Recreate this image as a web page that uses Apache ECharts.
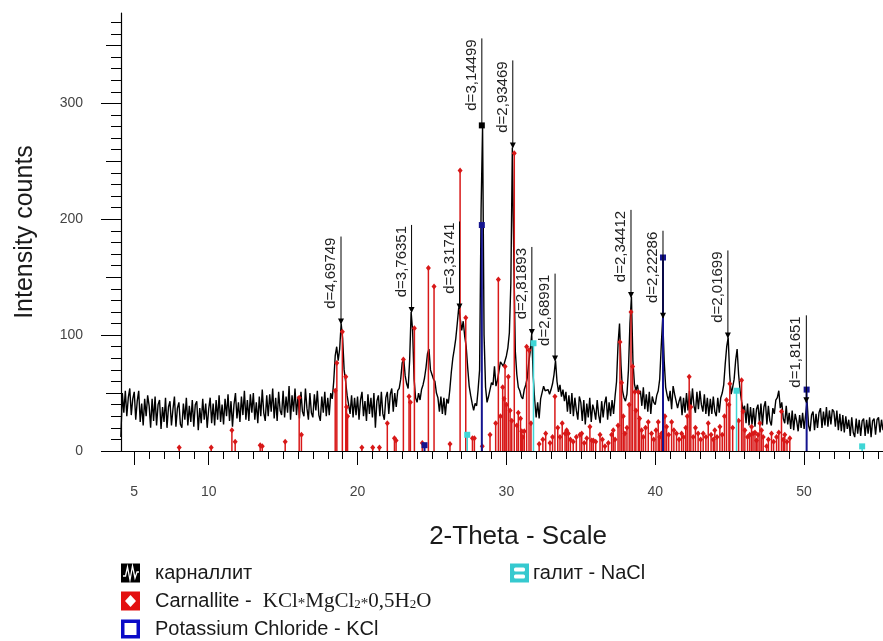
<!DOCTYPE html>
<html>
<head>
<meta charset="utf-8">
<script src="https://cdn.jsdelivr.net/npm/echarts@6/dist/echarts.min.js"></script>
<style>
  html, body { margin: 0; padding: 0; background: #fff; }
  #chart { width: 883px; height: 641px; }
</style>
</head>
<body>
<div id="chart"></div>
<script>
// measured pattern, 4.1° .. 55.3° 2θ, 0.1° step
const scanStart = 4.1;
const scanStep = 0.1;
const scanCounts = [
  12, 50, 33, 52, 30, 46, 54, 31, 45,
  51, 27, 43, 52, 25, 41, 22, 45, 30, 48,
  39, 20, 45, 26, 47, 22, 40, 44, 19, 38,
  25, 46, 20, 38, 43, 22, 36, 47, 21, 37,
  42, 23, 20, 41, 27, 46, 22, 39, 25, 44,
  21, 40, 43, 18, 37, 24, 45, 27, 41, 20,
  36, 46, 24, 41, 22, 44, 27, 48, 25, 40,
  23, 45, 30, 49, 26, 43, 21, 40, 50, 28,
  42, 25, 47, 31, 52, 27, 44, 26, 49, 33,
  50, 27, 42, 24, 47, 30, 53, 33, 26, 48,
  30, 49, 34, 54, 28, 46, 26, 51, 35, 31,
  52, 29, 47, 33, 56, 27, 48, 34, 54, 31,
  47, 28, 51, 34, 30, 54, 37, 27, 50, 33,
  29, 49, 35, 52, 31, 26, 47, 33, 51, 30,
  46, 31, 50, 45, 60, 82, 90, 78, 88, 110,
  97, 70, 60, 48, 49, 32, 48, 29, 46, 31,
  47, 27, 44, 51, 30, 43, 26, 49, 32, 46,
  29, 50, 20, 43, 48, 30, 51, 32, 27, 46,
  51, 32, 49, 54, 34, 50, 38, 52, 54, 62,
  76, 80, 65, 58, 54, 78, 120, 104, 62, 46,
  42, 50, 44, 53, 57, 63, 72, 84, 88, 70,
  66, 62, 60, 50, 46, 34, 47, 32, 46, 31,
  45, 41, 53, 68, 80, 88, 97, 110, 124, 114,
  104, 112, 99, 90, 72, 56, 48, 41, 35, 41,
  39, 53, 70, 208, 280, 100, 55, 42, 47, 46,
  59, 57, 73, 56, 61, 60, 77, 75, 73, 72,
  82, 89, 102, 145, 262, 165, 86, 66, 55, 52,
  47, 45, 53, 57, 63, 76, 86, 101, 65, 44,
  29, 42, 28, 45, 44, 56, 52, 53, 53, 49,
  53, 58, 66, 78, 60, 51, 57, 47, 53, 43,
  51, 34, 48, 32, 50, 30, 46, 35, 27, 47,
  42, 26, 44, 23, 41, 29, 46, 25, 40, 35,
  27, 44, 31, 24, 43, 29, 41, 47, 27, 42,
  30, 44, 32, 47, 60, 92, 110, 74, 52, 46,
  43, 49, 70, 110, 133, 78, 58, 52, 57, 49,
  52, 39, 55, 36, 49, 34, 51, 32, 47, 42,
  40, 48, 52, 62, 90, 115, 78, 55, 48, 43,
  52, 36, 56, 49, 50, 37, 43, 47, 31, 46,
  33, 50, 35, 52, 37, 54, 39, 33, 51, 36,
  52, 40, 34, 49, 32, 46, 30, 45, 32, 47,
  34, 30, 46, 33, 46, 50, 57, 75, 90, 98,
  66, 49, 55, 62, 78, 88, 66, 52, 43, 35,
  39, 24, 41, 22, 38, 23, 37, 21, 36, 40,
  25, 41, 22, 38, 43, 23, 39, 26, 22, 37,
  32, 44, 46, 52, 37, 42, 28, 24, 39, 23,
  33, 19, 35, 18, 32, 26, 17, 31, 20, 33,
  19, 31, 43, 22, 17, 31, 34, 18, 32, 20,
  33, 37, 20, 34, 22, 38, 21, 35, 23, 36,
  34, 21, 35, 18, 32, 17, 31, 16, 30, 19,
  27, 13, 29, 16, 12, 28, 15, 27, 13, 26,
  28, 13, 27, 15, 29, 12, 26, 28, 14, 27,
  29, 16, 27, 18
];

// reference sticks [2θ, intensity]
const carnalliteSticks = [
  [8.02, 3], [10.17, 3], [11.56, 18], [11.78, 8], [13.46, 5], [13.6, 4], [15.14, 8], [16.08, 46], [16.23, 14],
  [18.5, 52], [18.61, 76], [18.98, 103], [19.21, 64], [19.26, 38], [19.33, 30],
  [20.29, 3], [21.02, 3], [21.47, 3], [22.0, 24], [22.48, 11], [22.59, 9],
  [23.08, 79], [23.46, 47], [23.55, 42], [23.82, 106], [24.35, 7], [24.76, 158], [25.14, 142], [26.21, 6],
  [26.89, 242], [27.27, 115], [27.72, 11], [27.85, 11], [28.38, 4], [28.9, 14], [29.28, 24], [29.46, 148],
  [29.6, 30], [29.75, 55], [29.85, 45], [29.91, 73], [30.0, 40], [30.13, 64], [30.25, 35], [30.36, 26],
  [30.53, 257], [30.7, 22], [30.8, 33], [30.95, 28], [31.03, 17], [31.1, 12], [31.2, 17], [31.36, 90],
  [31.52, 87], [31.65, 24],
  [32.2, 6], [32.45, 10], [32.64, 15], [32.93, 7], [33.1, 12], [33.26, 47], [33.45, 20], [33.6, 12],
  [33.75, 24], [33.94, 15], [34.05, 18], [34.16, 15], [34.3, 10], [34.49, 8], [34.7, 12], [34.94, 14],
  [35.06, 15], [35.23, 7], [35.4, 11], [35.61, 21], [35.73, 9], [35.84, 9], [36.0, 8], [36.29, 14],
  [36.45, 10], [36.62, 4], [36.85, 7], [37.07, 14], [37.18, 18], [37.3, 10], [37.5, 22], [37.63, 94],
  [37.74, 59], [37.85, 30], [37.96, 15], [38.1, 20], [38.25, 40], [38.37, 120], [38.48, 73], [38.63, 51],
  [38.7, 35], [38.86, 51], [38.95, 28], [39.08, 18], [39.2, 12], [39.35, 20], [39.53, 25], [39.75, 15],
  [39.9, 10], [40.05, 18], [40.2, 25], [40.3, 12], [40.42, 15], [40.65, 30], [40.76, 21], [40.9, 14],
  [41.1, 25], [41.25, 18], [41.43, 15], [41.6, 10], [41.77, 15], [41.9, 12], [42.05, 20], [42.15, 30],
  [42.28, 64], [42.39, 38], [42.55, 12], [42.7, 20], [42.88, 15], [43.05, 10], [43.22, 15], [43.4, 12],
  [43.56, 24], [43.75, 14], [43.9, 10], [44.0, 18], [44.15, 12], [44.34, 21], [44.5, 14], [44.65, 30],
  [44.79, 44], [44.95, 40], [45.01, 58], [45.2, 20], [45.6, 26], [45.8, 61], [45.9, 34], [46.02, 18],
  [46.2, 12], [46.35, 14], [46.47, 21], [46.57, 15], [46.7, 16], [46.8, 9], [46.9, 14], [47.03, 24],
  [47.14, 18], [47.25, 12], [47.48, 4], [47.6, 10], [47.81, 15], [47.95, 8], [48.15, 12], [48.3, 16],
  [48.48, 34], [48.6, 10], [48.7, 14], [48.85, 8], [49.04, 11]
];
const kclSticks = [[24.5, 5], [28.35, 195], [40.52, 167], [50.17, 53]];
const naclSticks = [[27.37, 14], [31.82, 93], [45.46, 52], [53.9, 4]];

// d-spacing labels
const peakAngles = [18.89, 23.63, 26.85, 28.35, 30.43, 31.71, 33.27, 38.37, 40.52, 44.88, 50.15];
const peakCounts = [110, 120, 123, 281, 262, 101, 78, 133, 115, 98, 42];
const peakLabels = ['d=4,69749', 'd=3,76351', 'd=3,31741', 'd=3,14499', 'd=2,93469', 'd=2,81893',
  'd=2,68991', 'd=2,34412', 'd=2,22286', 'd=2,01699', 'd=1,81651'];

// axis ticks
const xMinorTicks = [5, 6, 7, 8, 9, 10, 11, 12, 13, 14, 15, 16, 17, 18, 19, 20, 21, 22, 23, 24, 25, 26, 27, 28, 29,
  30, 31, 32, 33, 34, 35, 36, 37, 38, 39, 40, 41, 42, 43, 44, 45, 46, 47, 48, 49, 50, 51, 52, 53, 54, 55];
const xMajorTicks = [5, 10, 20, 30, 40, 50];
const yMinorTicks = [10, 20, 30, 40, 60, 70, 80, 90, 110, 120, 130, 140, 160, 170, 180, 190, 210, 220, 230, 240,
  260, 270, 280, 290, 310, 320, 330, 340, 360, 370];
const yMidTicks = [50, 150, 250, 350];
const yMajorTicks = [0, 100, 200, 300];

const FONT = '"Liberation Sans", Arial, sans-serif';
const SERIF = '"Liberation Serif", "Times New Roman", serif';
const X_MIN = 4.11, X_MAX = 55.3, Y_MAX = 378;

const scan = scanCounts.map((c, i) => [+(scanStart + i * scanStep).toFixed(1), c]);

function stickRenderer(color, width, marker) {
  return function (params, api) {
    const base = api.coord([api.value(0), 0]);
    const top = api.coord([api.value(0), api.value(1)]);
    const children = [{
      type: 'line',
      shape: { x1: base[0], y1: base[1], x2: top[0], y2: top[1] },
      style: { stroke: color, lineWidth: width }
    }];
    if (marker === 'diamond') {
      children.push({
        type: 'polygon',
        shape: { points: [[top[0], top[1] - 3], [top[0] + 2.5, top[1]], [top[0], top[1] + 3], [top[0] - 2.5, top[1]]] },
        style: { fill: color }
      });
    } else {
      children.push({
        type: 'rect',
        shape: { x: top[0] - 3, y: top[1] - 3, width: 6, height: 6 },
        style: { fill: color }
      });
    }
    return { type: 'group', children };
  };
}

function peakRenderer(params, api) {
  const p = api.coord([api.value(0), api.value(1)]);
  const label = peakLabels[params.dataIndex];
  const topY = p[1] - 87;
  const mark = label === 'd=3,14499'
    ? { type: 'rect', shape: { x: p[0] - 3, y: p[1] - 3, width: 6, height: 6 }, style: { fill: '#000' } }
    : { type: 'polygon', shape: { points: [[p[0] - 3, p[1] - 5], [p[0] + 3, p[1] - 5], [p[0], p[1] + 1]] }, style: { fill: '#000' } };
  return {
    type: 'group',
    children: [
      { type: 'line', shape: { x1: p[0], y1: topY, x2: p[0], y2: p[1] }, style: { stroke: '#000', lineWidth: 1 } },
      mark,
      {
        type: 'text', x: p[0] - 10, y: topY + 1, rotation: Math.PI / 2,
        style: { text: label, align: 'right', verticalAlign: 'middle', fontSize: 15, fontFamily: FONT, fill: '#222' }
      }
    ]
  };
}

const baseX = { type: 'value', min: X_MIN, max: X_MAX, position: 'bottom', splitLine: { show: false } };
const baseY = { type: 'value', min: 0, max: Y_MAX, position: 'left', splitLine: { show: false } };

const chart = echarts.init(document.getElementById('chart'));
chart.setOption({
  animation: false,
  backgroundColor: '#fff',
  textStyle: { fontFamily: FONT },
  grid: { left: 121, right: 0, top: 13, bottom: 190, containLabel: false, outerBoundsMode: 'none' },
  xAxis: [
    Object.assign({}, baseX, {
      axisLine: { show: true, lineStyle: { color: '#000', width: 1 } },
      axisTick: { show: true, customValues: xMinorTicks, length: 8, lineStyle: { color: '#000' } },
      axisLabel: { show: false }
    }),
    Object.assign({}, baseX, {
      axisLine: { show: false },
      axisTick: { show: true, customValues: xMajorTicks, length: 14, lineStyle: { color: '#000' } },
      axisLabel: { show: true, customValues: xMajorTicks, margin: 34, fontSize: 14, color: '#444', fontFamily: FONT }
    })
  ],
  yAxis: [
    Object.assign({}, baseY, {
      axisLine: { show: true, lineStyle: { color: '#000', width: 1.2 } },
      axisTick: { show: true, customValues: yMinorTicks, length: 10, lineStyle: { color: '#000' } },
      axisLabel: { show: false }
    }),
    Object.assign({}, baseY, {
      axisLine: { show: false },
      axisTick: { show: true, customValues: yMidTicks, length: 15, lineStyle: { color: '#000' } },
      axisLabel: { show: false }
    }),
    Object.assign({}, baseY, {
      axisLine: { show: false },
      axisTick: { show: true, customValues: yMajorTicks, length: 20, lineStyle: { color: '#000' } },
      axisLabel: { show: true, customValues: yMajorTicks, margin: 38, fontSize: 14, color: '#444', fontFamily: FONT }
    })
  ],
  series: [
    {
      name: 'карналлит',
      type: 'line',
      data: scan,
      showSymbol: false,
      sampling: false,
      lineStyle: { color: '#000', width: 1.4 },
      z: 3
    },
    {
      name: 'Carnallite',
      type: 'custom',
      data: carnalliteSticks,
      encode: { x: 0, y: 1 },
      renderItem: stickRenderer('#d81818', 1.5, 'diamond'),
      z: 4
    },
    {
      name: 'galite',
      type: 'custom',
      data: naclSticks,
      encode: { x: 0, y: 1 },
      renderItem: stickRenderer('#3fd6d6', 1.5, 'square'),
      z: 5
    },
    {
      name: 'KCl',
      type: 'custom',
      data: kclSticks,
      encode: { x: 0, y: 1 },
      renderItem: stickRenderer('#14148f', 2, 'square'),
      z: 5
    },
    {
      name: 'peaks',
      type: 'custom',
      data: peakAngles.map((a, i) => [a, peakCounts[i]]),
      encode: { x: 0, y: 1 },
      renderItem: peakRenderer,
      clip: false,
      z: 6
    }
  ],
  graphic: [
    {
      type: 'text', x: 25, y: 232, rotation: Math.PI / 2,
      style: { text: 'Intensity counts', align: 'center', verticalAlign: 'middle', fontSize: 25, fontFamily: FONT, fill: '#1a1a1a' }
    },
    {
      type: 'text', x: 518, y: 537,
      style: { text: '2-Theta - Scale', align: 'center', verticalAlign: 'middle', fontSize: 26, fontFamily: FONT, fill: '#1a1a1a' }
    },
    // legend: карналлит
    { type: 'rect', shape: { x: 121, y: 563.5, width: 19, height: 19 }, style: { fill: '#000' } },
    {
      type: 'polyline',
      shape: { points: [[123, 576], [125.5, 576], [127.5, 567], [130, 580], [132.5, 566], [135, 578], [137, 572], [139, 572]] },
      style: { stroke: '#fff', lineWidth: 1.3, fill: null }
    },
    {
      type: 'text', x: 155, y: 573,
      style: { text: 'карналлит', verticalAlign: 'middle', fontSize: 20, fontFamily: FONT, fill: '#1a1a1a' }
    },
    // legend: Carnallite
    { type: 'rect', shape: { x: 121, y: 591.5, width: 19, height: 19 }, style: { fill: '#e3100f' } },
    {
      type: 'polygon',
      shape: { points: [[130.5, 595], [136, 601], [130.5, 607], [125, 601]] },
      style: { fill: '#fff' }
    },
    {
      type: 'text', x: 155, y: 601,
      style: {
        text: '{a|Carnallite -  }{f|KCl}{m|*}{f|MgCl}{s|2}{m|*}{f|0,5H}{s|2}{f|O}',
        verticalAlign: 'middle',
        fill: '#1a1a1a',
        rich: {
          a: { fontSize: 20, fontFamily: FONT, fill: '#1a1a1a', verticalAlign: 'bottom' },
          f: { fontSize: 21, fontFamily: SERIF, fill: '#1a1a1a', verticalAlign: 'bottom' },
          m: { fontSize: 15, fontFamily: SERIF, fill: '#1a1a1a', verticalAlign: 'bottom', lineHeight: 17 },
          s: { fontSize: 13, fontFamily: SERIF, fill: '#1a1a1a', verticalAlign: 'bottom', lineHeight: 13 }
        }
      }
    },
    // legend: Potassium Chloride
    { type: 'rect', shape: { x: 121, y: 619.5, width: 19, height: 19 }, style: { fill: '#0a0ac8' } },
    { type: 'rect', shape: { x: 124.5, y: 623, width: 12, height: 12 }, style: { fill: '#fff' } },
    {
      type: 'text', x: 155, y: 629,
      style: { text: 'Potassium Chloride - KCl', verticalAlign: 'middle', fontSize: 20, fontFamily: FONT, fill: '#1a1a1a' }
    },
    // legend: галит
    { type: 'rect', shape: { x: 510, y: 563.5, width: 19, height: 19 }, style: { fill: '#36c9cf' } },
    { type: 'rect', shape: { x: 514, y: 567.5, width: 11, height: 4, r: 1.5 }, style: { fill: '#fff' } },
    { type: 'rect', shape: { x: 514, y: 574.5, width: 11, height: 4, r: 1.5 }, style: { fill: '#fff' } },
    {
      type: 'text', x: 533, y: 573,
      style: { text: 'галит - NaCl', verticalAlign: 'middle', fontSize: 20, fontFamily: FONT, fill: '#1a1a1a' }
    }
  ]
});
</script>
</body>
</html>
